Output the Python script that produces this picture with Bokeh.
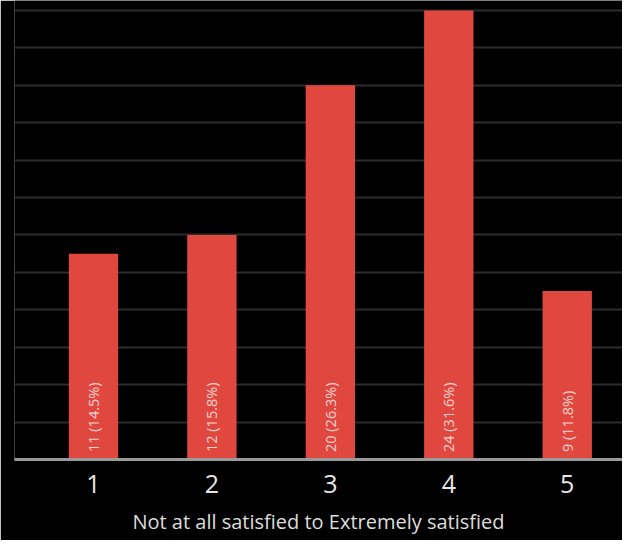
import math
from bokeh.plotting import figure
from bokeh.models import Range1d, FixedTicker, SingleIntervalTicker, ColumnDataSource
from bokeh.core.properties import value
from bokeh.embed import file_html
from bokeh.resources import INLINE

categories = ["1", "2", "3", "4", "5"]
counts = [11, 12, 20, 24, 9]
percents = ["14.5%", "15.8%", "26.3%", "31.6%", "11.8%"]
x_label = "Not at all satisfied to Extremely satisfied"

positions = list(range(1, len(categories) + 1))
labels = [f"{c} ({p})" for c, p in zip(counts, percents)]
src = ColumnDataSource(dict(x=positions, top=counts, label=labels,
                            ly=[0.4] * len(counts)))

p = figure(width=622, height=540, output_backend="svg", toolbar_location=None,
           x_range=Range1d(1 - 80 / 120, 1 - 80 / 120 + 616 / 120),
           y_range=Range1d(0, 24.53),
           background_fill_color="black", border_fill_color="black",
           min_border_left=14, min_border_right=0, min_border_top=0,
           min_border_bottom=81)
p.outline_line_color = None

p.vbar(x="x", top="top", width=50 / 120, bottom=0, source=src,
       fill_color="#E0483F", line_color=None)
p.text(x="x", y="ly", text="label", source=src, angle=math.pi / 2,
       text_align="left", text_baseline="middle",
       text_font=value("Open Sans"), text_font_size="14.5px",
       text_color="#FFFFFF", text_alpha=0.75)

p.xaxis.ticker = FixedTicker(ticks=positions)
p.xaxis.major_label_overrides = {i: c for i, c in zip(positions, categories)}
p.xaxis.axis_line_color = "#9A9A9A"
p.xaxis.axis_line_width = 3
p.xaxis.major_tick_line_color = None
p.xaxis.minor_tick_line_color = None
p.xaxis.major_label_text_font = "Open Sans"
p.xaxis.major_label_text_font_size = "25px"
p.xaxis.major_label_text_color = "#E6E6E6"
p.xaxis.major_label_standoff = 9
p.xaxis.axis_label = x_label
p.xaxis.axis_label_text_font = "Open Sans"
p.xaxis.axis_label_text_font_size = "20px"
p.xaxis.axis_label_text_font_style = "normal"
p.xaxis.axis_label_text_color = "#DDDDDD"
p.xaxis.axis_label_standoff = 12

p.xgrid.grid_line_color = None
p.yaxis.ticker = SingleIntervalTicker(interval=2)
p.yaxis.visible = False
p.ygrid.grid_line_color = "#2C2C2C"
p.ygrid.grid_line_width = 2

open("out.html", "w").write(file_html(p, INLINE))
